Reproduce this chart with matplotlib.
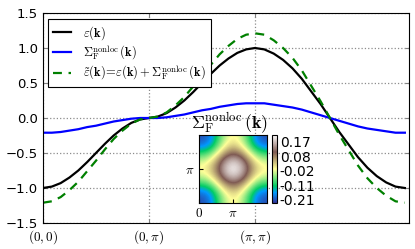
import numpy as np
import matplotlib
matplotlib.use('Agg')
import matplotlib.pyplot as plt

plt.rcParams['mathtext.fontset'] = 'cm'

# dispersion along the path (0,0)->(0,pi)->(pi,pi)->(0,0)
eps_seg1 = [-1.00, -0.98, -0.93, -0.85, -0.75, -0.63, -0.50, -0.37, -0.25, -0.15, -0.07, -0.02, 0.00]
eps_seg2 = [0.00, 0.02, 0.07, 0.15, 0.25, 0.37, 0.50, 0.63, 0.75, 0.85, 0.93, 0.98, 1.00]
eps_seg3 = [1.00, 0.98, 0.92, 0.83, 0.71, 0.56, 0.38, 0.20, 0.00, -0.20, -0.38, -0.56,
            -0.71, -0.83, -0.92, -0.98, -1.00]

sig_seg1 = [-0.21, -0.21, -0.20, -0.18, -0.16, -0.13, -0.11, -0.08, -0.05, -0.03, -0.01, 0.00, 0.00]
sig_seg2 = [0.00, 0.00, 0.01, 0.03, 0.05, 0.08, 0.11, 0.13, 0.16, 0.18, 0.20, 0.21, 0.21]
sig_seg3 = [0.21, 0.21, 0.19, 0.17, 0.15, 0.12, 0.08, 0.04, 0.00, -0.04, -0.08, -0.12,
            -0.15, -0.17, -0.19, -0.21, -0.21]

# Sigma_F^nonloc on a 9x9 grid over the Brillouin zone (inset)
sig_map = [
    [-0.21, -0.18, -0.10, -0.03, 0.00, -0.03, -0.10, -0.18, -0.21],
    [-0.18, -0.15, -0.07, 0.00, 0.03, 0.00, -0.07, -0.15, -0.18],
    [-0.10, -0.07, 0.00, 0.07, 0.10, 0.07, 0.00, -0.07, -0.10],
    [-0.03, 0.00, 0.07, 0.15, 0.18, 0.15, 0.07, 0.00, -0.03],
    [0.00, 0.03, 0.10, 0.18, 0.21, 0.18, 0.10, 0.03, 0.00],
    [-0.03, 0.00, 0.07, 0.15, 0.18, 0.15, 0.07, 0.00, -0.03],
    [-0.10, -0.07, 0.00, 0.07, 0.10, 0.07, 0.00, -0.07, -0.10],
    [-0.18, -0.15, -0.07, 0.00, 0.03, 0.00, -0.07, -0.15, -0.18],
    [-0.21, -0.18, -0.10, -0.03, 0.00, -0.03, -0.10, -0.18, -0.21],
]

path_labels = [r'$(0,0)$', r'$(0,\pi)$', r'$(\pi,\pi)$']
cbar_ticks = [-0.21, -0.115, -0.02, 0.075, 0.17]
cbar_labels = ['-0.21', '-0.11', '-0.02', '0.08', '0.17']

# path coordinate in units of pi
d3 = np.sqrt(2)
x = np.concatenate([np.linspace(0, 1, len(eps_seg1)),
                    np.linspace(1, 2, len(eps_seg2))[1:],
                    np.linspace(2, 2 + d3, len(eps_seg3))[1:]])
eps = np.array(eps_seg1 + eps_seg2[1:] + eps_seg3[1:])
sig = np.array(sig_seg1 + sig_seg2[1:] + sig_seg3[1:])

fig = plt.figure(figsize=(4.15, 2.49), dpi=100)
ax = fig.add_axes([0.1036, 0.1044, 0.8819, 0.8434])

ax.plot(x, eps, color='k', lw=1.6, label=r'$\varepsilon(\mathbf{k})$')
ax.plot(x, sig, color='b', lw=1.6, label=r'$\Sigma_{\rm F}^{\rm nonloc}\,(\mathbf{k})$')
ax.plot(x, eps + sig, color='g', lw=1.6, ls='--', dashes=(4, 3),
        label=r'$\tilde{\varepsilon}(\mathbf{k})\!=\!\varepsilon(\mathbf{k})+\Sigma_{\rm F}^{\rm nonloc}\,(\mathbf{k})$')

ax.set_xlim(0, 3.453)
ax.set_ylim(-1.5, 1.5)
ax.set_xticks([0, 1, 2])
ax.set_xticklabels(path_labels, fontsize=9.5)
ax.set_yticks([-1.5, -1.0, -0.5, 0.0, 0.5, 1.0, 1.5])
ax.tick_params(axis='y', labelsize=9.5)
ax.tick_params(direction='in', top=True, right=True, length=3, color='0.5')
ax.grid(True, ls=':', color='0.55', lw=0.9)

leg = ax.legend(loc='upper left', bbox_to_anchor=(0.014, 0.972), borderaxespad=0,
                fontsize=9, fancybox=False, framealpha=1, handlelength=1.45,
                handletextpad=0.95, labelspacing=0.15, borderpad=0.4, edgecolor='k')
leg.get_frame().set_linewidth(0.8)

# inset map
axin = fig.add_axes([0.4795, 0.1847, 0.1639, 0.2731])
im = axin.imshow(sig_map, cmap='terrain', origin='lower', extent=[0, 2 * np.pi, 0, 2 * np.pi],
                 vmin=-0.23, vmax=0.215, interpolation='bicubic')
axin.set_xticks([0, np.pi])
axin.set_xticklabels([r'$0$', r'$\pi$'], fontsize=9.5)
axin.set_yticks([np.pi])
axin.set_yticklabels([r'$\pi$'], fontsize=9.5)
axin.tick_params(direction='in', length=3, color='k', pad=3)
axin.set_title(r'$\Sigma_{\rm F}^{\rm nonloc}\,(\mathbf{k})$', fontsize=13, pad=1, loc='left', x=-0.12)

cax = fig.add_axes([0.6554, 0.1847, 0.012, 0.2731])
cb = fig.colorbar(im, cax=cax, ticks=cbar_ticks)
cb.ax.set_yticklabels(cbar_labels, fontsize=10)
cb.ax.tick_params(length=0, pad=2)
cb.outline.set_linewidth(0.8)

fig.savefig('out.png', dpi=100)
